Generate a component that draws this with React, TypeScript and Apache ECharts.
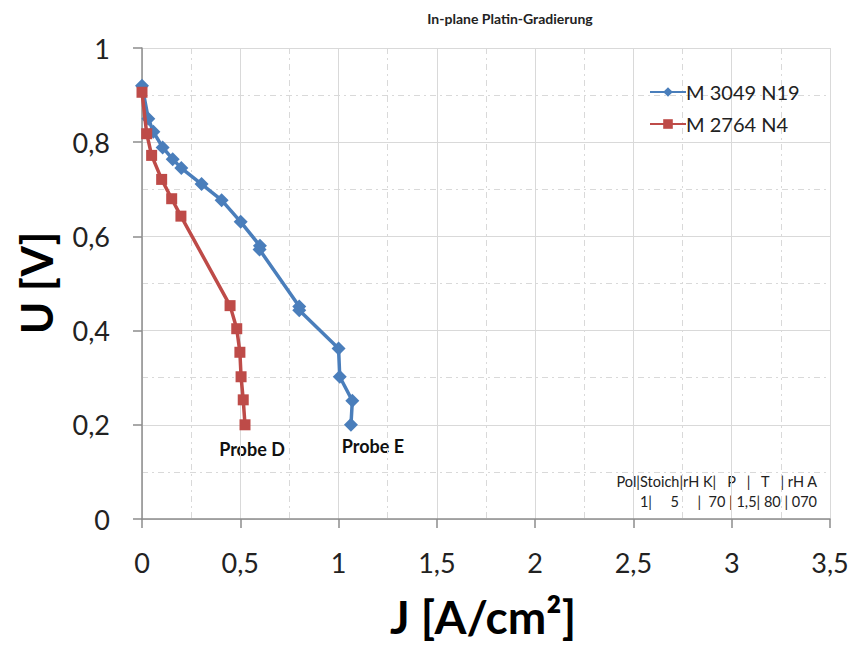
import React, { useEffect, useRef } from "react";
import * as echarts from "echarts";

const blueJ = [0, 0.032, 0.058, 0.105, 0.156, 0.2, 0.303, 0.405, 0.502, 0.6, 0.598, 0.8, 0.8, 1.0, 1.006, 1.07, 1.063];
const blueU = [0.92, 0.85, 0.822, 0.789, 0.764, 0.745, 0.711, 0.677, 0.631, 0.58, 0.572, 0.451, 0.443, 0.362, 0.302, 0.251, 0.2];
const redJ = [0, 0.024, 0.049, 0.1, 0.151, 0.198, 0.448, 0.482, 0.498, 0.504, 0.515, 0.524];
const redU = [0.906, 0.818, 0.772, 0.721, 0.68, 0.643, 0.453, 0.404, 0.354, 0.302, 0.253, 0.2];
const seriesNames = ["M 3049 N19", "M 2764 N4"];
const titleText = "In-plane Platin-Gradierung";
const xTitle = "J [A/cm²]";
const yTitle = "U [V]";
const probeLabels = ["Probe D", "Probe E"];
const infoLines = ["Pol|Stoich|rH K|   P   |   T   | rH A", "1|     5     |  70 | 1,5| 80 | 070"];

const FONT = "Lato, 'Open Sans', sans-serif";

export default function App() {
  const ref = useRef<HTMLDivElement>(null);
  useEffect(() => {
    if (!ref.current) return;
    const chart = echarts.init(ref.current, null, { renderer: "svg" });
    const fmt = (v: number) => String(v).replace(".", ",");
    chart.setOption({
      animation: false,
      textStyle: { fontFamily: FONT },
      grid: { left: 142, right: 22, top: 48, bottom: 127, containLabel: false },
      legend: {
        orient: "vertical",
        left: 644,
        top: 77,
        itemWidth: 36,
        itemHeight: 12,
        itemGap: 12,
        textStyle: { fontSize: 20, color: "#222", fontFamily: FONT, padding: [0, 0, 0, -5] },
        data: seriesNames,
      },
      xAxis: {
        type: "value",
        min: 0,
        max: 3.5,
        interval: 0.5,
        axisLine: { show: true, onZero: false, lineStyle: { color: "#8c8c8c", width: 1.5 } },
        axisTick: { show: true, length: 9, lineStyle: { color: "#8c8c8c", width: 1.5 } },
        axisLabel: { fontSize: 27, color: "#222", margin: 30, formatter: fmt, fontFamily: FONT },
        splitLine: { show: true, lineStyle: { color: "#d9d9d9", width: 1 } },
        minorTick: { show: false, splitNumber: 2 },
        minorSplitLine: { show: true, lineStyle: { color: "#d9d9d9", type: [6, 4, 2, 4], width: 1 } },
      },
      yAxis: {
        type: "value",
        min: 0,
        max: 1,
        interval: 0.2,
        axisLine: { show: true, onZero: false, lineStyle: { color: "#8c8c8c", width: 1.5 } },
        axisTick: { show: true, length: 9, lineStyle: { color: "#8c8c8c", width: 1.5 } },
        axisLabel: { fontSize: 27, color: "#222", margin: 32, formatter: fmt, fontFamily: FONT },
        splitLine: { show: true, lineStyle: { color: "#d9d9d9", width: 1 } },
        minorTick: { show: false, splitNumber: 2 },
        minorSplitLine: { show: true, lineStyle: { color: "#d9d9d9", type: [6, 4, 2, 4], width: 1 } },
      },
      series: [
        {
          name: seriesNames[0],
          type: "line",
          data: blueJ.map((x, i) => [x, blueU[i]]),
          symbol: "diamond",
          symbolSize: 14,
          itemStyle: { color: "#4a7ebb" },
          lineStyle: { color: "#4a7ebb", width: 3.5 },
          z: 3,
        },
        {
          name: seriesNames[1],
          type: "line",
          data: redJ.map((x, i) => [x, redU[i]]),
          symbol: "rect",
          symbolSize: 11,
          itemStyle: { color: "#be4b48" },
          lineStyle: { color: "#be4b48", width: 3.5 },
          z: 4,
        },
      ],
      graphic: [
        {
          type: "text",
          x: 510,
          y: 18,
          style: { text: titleText, font: `bold 14px ${FONT}`, fill: "#222", textAlign: "center", textVerticalAlign: "middle" },
        },
        {
          type: "text",
          x: 483,
          y: 616,
          style: { text: xTitle, font: `bold 46px ${FONT}`, fill: "#000", textAlign: "center", textVerticalAlign: "middle" },
        },
        {
          type: "text",
          x: 36,
          y: 283,
          rotation: Math.PI / 2,
          style: { text: yTitle, font: `bold 44px ${FONT}`, fill: "#000", textAlign: "center", textVerticalAlign: "middle" },
        },
        {
          type: "text",
          x: 252,
          y: 449,
          style: { text: probeLabels[0], font: `bold 18px ${FONT}`, fill: "#111", textAlign: "center", textVerticalAlign: "middle" },
        },
        {
          type: "text",
          x: 373,
          y: 446,
          style: { text: probeLabels[1], font: `bold 18px ${FONT}`, fill: "#111", textAlign: "center", textVerticalAlign: "middle" },
        },
        {
          type: "text",
          x: 817,
          y: 481,
          style: { text: infoLines[0], font: `14.5px ${FONT}`, fill: "#222", textAlign: "right", textVerticalAlign: "middle" },
        },
        {
          type: "text",
          x: 817,
          y: 501,
          style: { text: infoLines[1], font: `14.5px ${FONT}`, fill: "#222", textAlign: "right", textVerticalAlign: "middle" },
        },
      ],
    });
    return () => chart.dispose();
  }, []);
  return <div ref={ref} style={{ width: 852, height: 646, position: "absolute", left: 0, top: 0, background: "#fff" }} />;
}
